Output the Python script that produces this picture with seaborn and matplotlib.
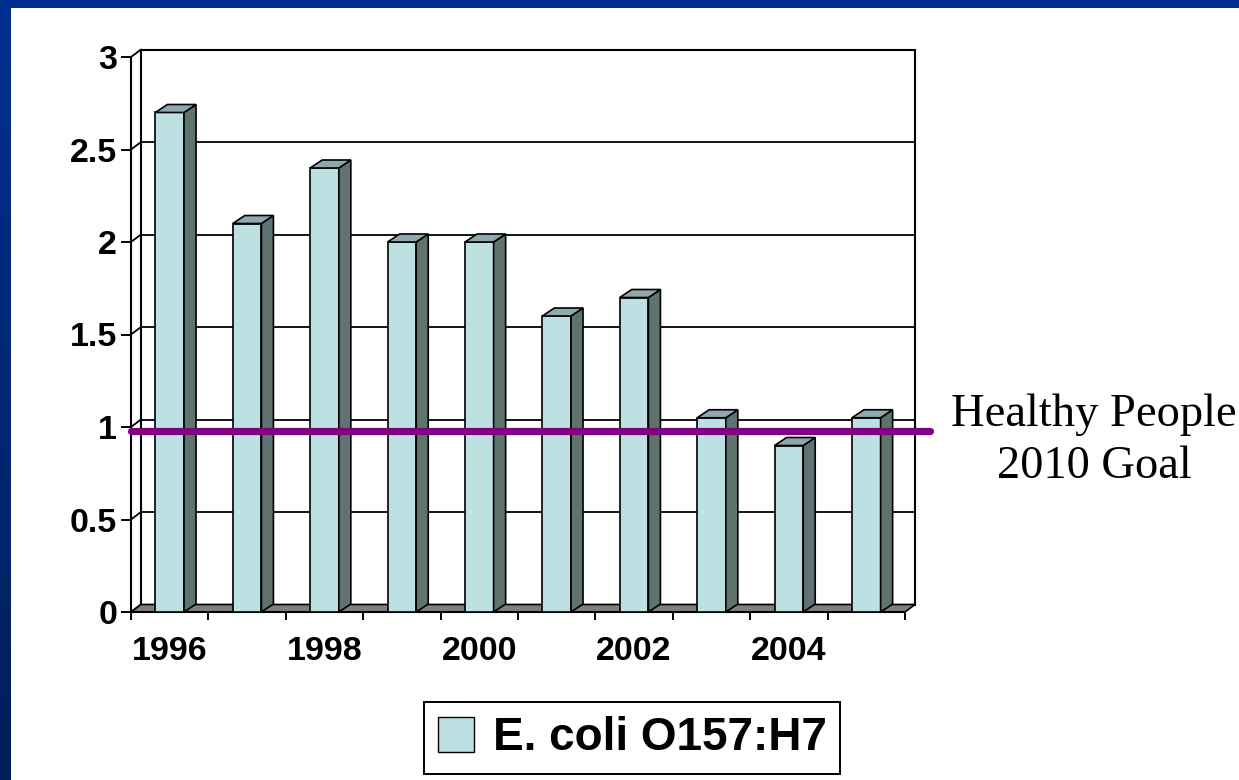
import numpy as np
import pandas as pd
import seaborn as sns
import matplotlib.pyplot as plt
from matplotlib.patches import Polygon, Patch, Rectangle
from matplotlib.colors import LinearSegmentedColormap

years = ['1996', '1997', '1998', '1999', '2000', '2001', '2002', '2003', '2004', '2005']
incidence = [2.7, 2.1, 2.4, 2.0, 2.0, 1.6, 1.7, 1.05, 0.9, 1.05]
goal = 0.98
y_ticks = [0, 0.5, 1, 1.5, 2, 2.5, 3]
y_labels = ['0', '0.5', '1', '1.5', '2', '2.5', '3']
x_labels = ['1996', '', '1998', '', '2000', '', '2002', '', '2004', '']
series_name = 'E. coli O157:H7'
goal_text = 'Healthy People\n2010 Goal'

front = '#BDE0E3'
side = '#5F7370'
top = '#8FA8AB'
floor = '#808080'
purple = '#800080'

df = pd.DataFrame({'year': years, 'rate': incidence})

sns.set_style('white')
plt.rcParams['font.family'] = ['Liberation Sans', 'DejaVu Sans']
plt.rcParams['text.color'] = 'black'
plt.rcParams['xtick.color'] = 'black'
plt.rcParams['ytick.color'] = 'black'

W, H = 1239, 780
fig = plt.figure(figsize=(W / 100, H / 100), dpi=100)
fig.patch.set_facecolor('white')

# blue slide frame
frame = fig.add_axes([0, 0, 11 / W, 1])
grad = np.linspace(0, 1, 256).reshape(-1, 1)
frame.imshow(grad, aspect='auto', cmap=LinearSegmentedColormap.from_list('f', ['#003090', '#001E5A']))
frame.axis('off')
fig.patches.append(Rectangle((0, 1 - 8 / H), 1, 8 / H, transform=fig.transFigure,
                             facecolor='#00308F', edgecolor='none', zorder=0))

ax = fig.add_axes([131 / W, (H - 612) / H, 774 / W, 555 / H])
ax.set_facecolor('none')
sns.barplot(data=df, x='year', y='rate', color=front, width=0.37, saturation=1,
            edgecolor='black', linewidth=1.2, ax=ax, zorder=3)
ax.set_xlim(-0.5, 9.5)
ax.set_ylim(0, 3)

# pseudo 3-D depth: wall sits ~10 px right and 7 px up, bars ~12 x 8 px deep
wdx = 10 * 10 / 774
wdy = 7.5 * 3 / 555
bdx = 12 * 10 / 774
bdy = 8 * 3 / 555
x0, x1 = -0.5, 9.5

wall = Polygon([(x0 + wdx, wdy), (x1 + wdx, wdy), (x1 + wdx, 3 + wdy), (x0 + wdx, 3 + wdy)],
               closed=True, facecolor='white', edgecolor='black', lw=1.5, clip_on=False, zorder=0.2)
ax.add_patch(wall)
for y in y_ticks:
    ax.plot([x0 + wdx, x1 + wdx], [y + wdy, y + wdy], color='black', lw=1.3, clip_on=False, zorder=0.3)
    ax.plot([x0, x0 + wdx], [y, y + wdy], color='black', lw=1.3, clip_on=False, zorder=0.3)

ax.add_patch(Polygon([(x0, 0), (x1, 0), (x1 + wdx, wdy), (x0 + wdx, wdy)], closed=True,
                     facecolor=floor, edgecolor='black', lw=1.2, clip_on=False, zorder=0.5))

bars = [p for p in ax.patches if p is not wall and hasattr(p, 'get_width')]
for p in bars:
    bx, w, h = p.get_x(), p.get_width(), p.get_height()
    ax.add_patch(Polygon([(bx + w, 0), (bx + w + bdx, bdy), (bx + w + bdx, h + bdy), (bx + w, h)],
                         closed=True, facecolor=side, edgecolor='black', lw=1.2, zorder=3))
    ax.add_patch(Polygon([(bx, h), (bx + w, h), (bx + w + bdx, h + bdy), (bx + bdx, h + bdy)],
                         closed=True, facecolor=top, edgecolor='black', lw=1.2, zorder=3))

ax.axhline(goal, xmin=0, xmax=1.032, color=purple, lw=5.2, clip_on=False, zorder=5)

for s in ['top', 'right']:
    ax.spines[s].set_visible(False)
for s in ['left', 'bottom']:
    ax.spines[s].set_color('black')
    ax.spines[s].set_linewidth(1.5)

ax.set_yticks(y_ticks, y_labels)
ax.set_xticks(range(len(years)), x_labels)
ax.set_xticks(np.arange(-0.5, 10, 1), minor=True)
ax.tick_params(axis='y', direction='out', length=7, width=1.4, pad=3, labelsize=24.5, left=True)
ax.tick_params(axis='x', which='major', length=0, pad=17, labelsize=24.5)
ax.tick_params(axis='x', which='minor', direction='out', length=6, width=1.4, bottom=True)
for lab in ax.get_xticklabels() + ax.get_yticklabels():
    lab.set_fontweight('bold')
    lab.set_color('black')
ax.set_xlabel('')
ax.set_ylabel('')

leg = fig.legend(handles=[Patch(facecolor=front, edgecolor='black', label=series_name)],
                 loc='center', bbox_to_anchor=(632 / W, 1 - 738 / H), frameon=True, fancybox=False,
                 edgecolor='black', framealpha=1, handlelength=0.8, handleheight=0.8,
                 handletextpad=0.4, borderpad=0.3, prop={'weight': 'bold', 'size': 33})
leg.get_frame().set_linewidth(1.4)
for t in leg.get_texts():
    t.set_color('black')

fig.text(1094 / W, 1 - 441 / H, goal_text, ha='center', va='center', family='Liberation Serif',
         fontsize=33.5, linespacing=1.3, color='black')

fig.savefig('out.png', dpi=100)
